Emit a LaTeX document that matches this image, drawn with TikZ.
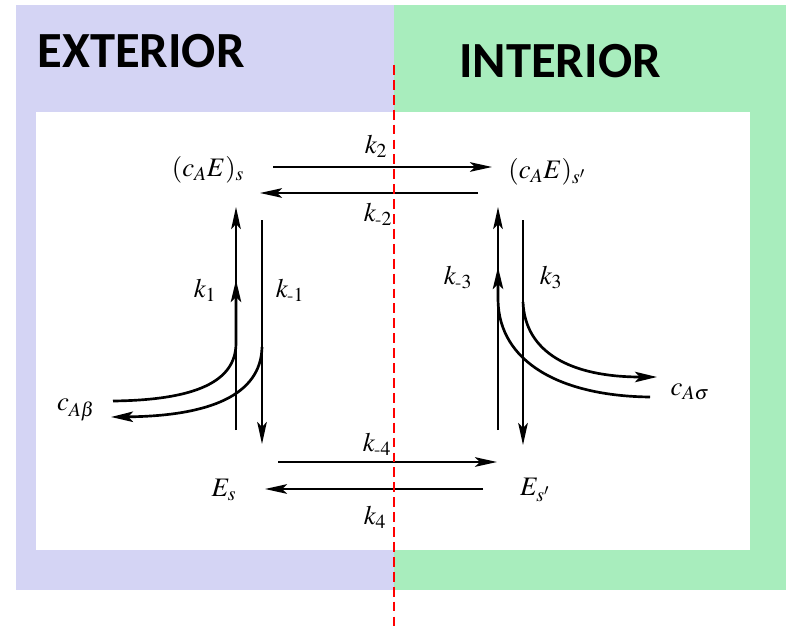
\documentclass[tikz,border=0pt]{standalone}
\usepackage{amsmath}
\usepackage{mathptmx}
\usepackage{fontspec}
\newfontfamily\titlefont{Carlito}
\usepackage{tikz}
\usetikzlibrary{arrows.meta, positioning}
\definecolor{extfill}{HTML}{D4D4F4}
\definecolor{intfill}{HTML}{A8EDBD}
\newcommand{\mk}{\mbox{\fontsize{13}{13}\selectfont-}}

\begin{document}
\begin{tikzpicture}[
    x=0.025cm, y=-0.025cm,
    every node/.style={font=\fontsize{19}{21}\selectfont},
    title/.style={font=\titlefont\bfseries\fontsize{36}{40}\selectfont,
        inner sep=0pt},
    species/.style={inner sep=1pt},
    rate/.style={inner sep=1pt},
    rxn/.style={-{Stealth[length=5.5mm, width=2.4mm, inset=1.2mm]},
        line width=1.3pt},
    flux/.style={line width=1.9pt},
    fluxarr/.style={flux, -{Stealth[length=5.5mm, width=2.6mm, inset=1.2mm]}},
    membrane/.style={red, line width=1.4pt, dash pattern=on 7pt off 3.6pt},
]

% compartments
\fill[white] (0,0) rectangle (786,628);
\fill[extfill] (16,5) rectangle (394,590);
\fill[intfill] (394,5) rectangle (786,590);
\fill[white] (36,112) rectangle (750,550);

\node[title] (ext) at (141,51) {EXTERIOR};
\node[title] (int) at (560,61) {INTERIOR};

% carrier states
\node[species] (cEs) at (208,170) {$(c_A E)_s$};
\node[species] (cEsp) at (547,172) {$(c_A E)_{s'}$};
\node[species] (Es) at (224,490) {$E_s$};
\node[species] (Esp) at (535,490) {$E_{s'}$};
\node[species] (cAb) at (76,410) {$c_{A\beta}$};
\node[species] (cAs) at (690,392) {$c_{A\sigma}$};

% end points of the reaction arrows
\coordinate (tr1) at (273,167);  \coordinate (tr2) at (492,167);
\coordinate (tl1) at (478,193);  \coordinate (tl2) at (260,193);
\coordinate (br1) at (278,462);  \coordinate (br2) at (497,462);
\coordinate (bl1) at (483,489);  \coordinate (bl2) at (265,489);
\coordinate (lu1) at (236,430);  \coordinate (lu2) at (236,207);
\coordinate (ld1) at (262,220);  \coordinate (ld2) at (262,444);
\coordinate (ru1) at (498,430);  \coordinate (ru2) at (498,207);
\coordinate (rd1) at (523,220);  \coordinate (rd2) at (523,445);

% translocation across the membrane
\draw[rxn] (tr1) -- (tr2);
\draw[rxn] (tl1) -- (tl2);
\draw[rxn] (br1) -- (br2);
\draw[rxn] (bl1) -- (bl2);
\node[rate] (k2) at (376,146) {$k_2$};
\node[rate] (km2) at (378,214) {$k_{\mk 2}$};
\node[rate] (km4) at (377,444) {$k_{\mk 4}$};
\node[rate] (k4) at (375,517) {$k_4$};

% binding and release
\draw[rxn] (lu1) -- (lu2);
\draw[rxn] (ld1) -- (ld2);
\draw[rxn] (ru1) -- (ru2);
\draw[rxn] (rd1) -- (rd2);
\node[rate] (k1) at (205,290) {$k_1$};
\node[rate] (km1) at (290,290) {$k_{\mk 1}$};
\node[rate] (km3) at (458,277) {$k_{\mk 3}$};
\node[rate] (k3) at (551,277) {$k_3$};

% substrate fluxes
\draw[fluxarr] (113,401) .. controls (195,400) and (236,382)
    .. (236,343) -- (236,280);
\draw[fluxarr] (262,347) .. controls (261,395) and (210,416)
    .. (111,417);
\draw[fluxarr] (523,302) .. controls (525,352) and (570,377)
    .. (657,377);
\draw[fluxarr] (650,397) .. controls (560,396) and (499,362)
    .. (498,300) -- (498,267);

% membrane
\draw[membrane] (394,65) -- (394,628);

\end{tikzpicture}
\end{document}
